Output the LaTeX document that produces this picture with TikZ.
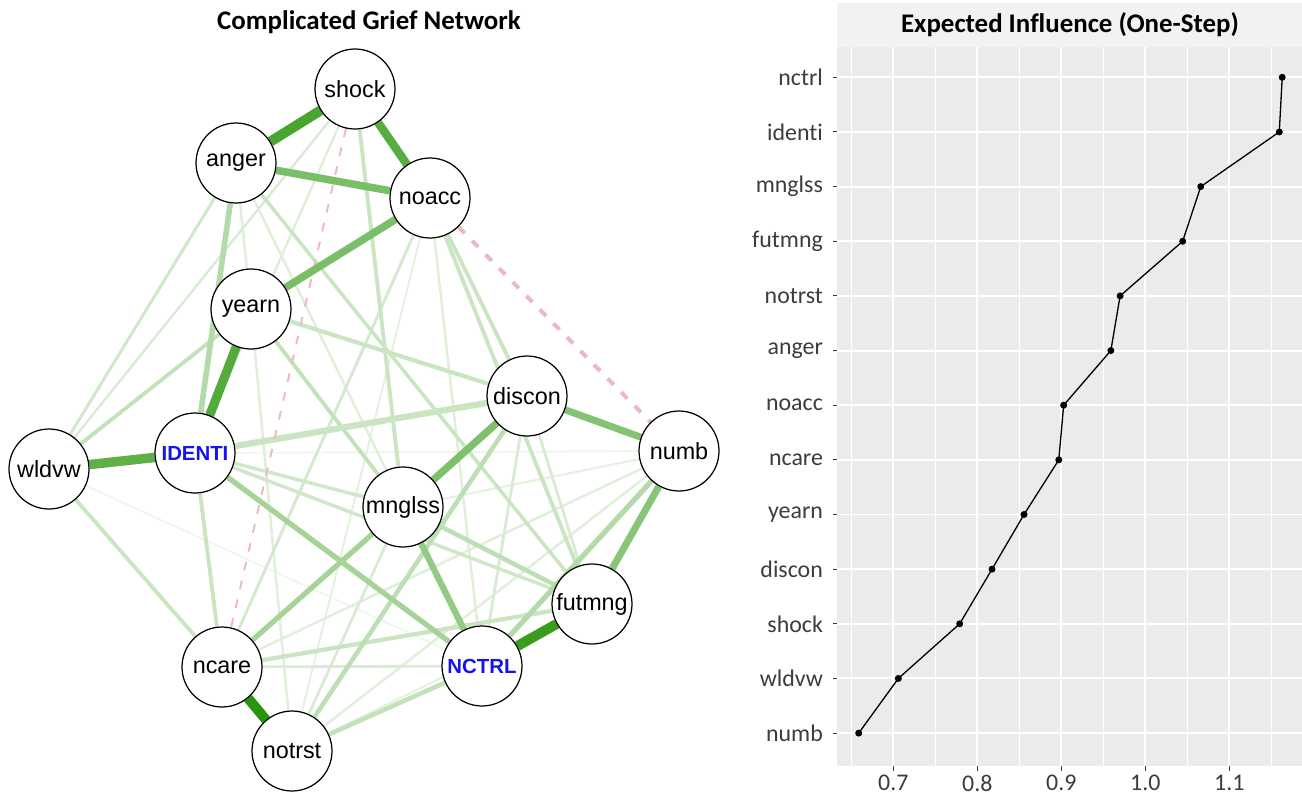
\documentclass[tikz,border=0pt]{standalone}
\usepackage{fontspec}
\usepackage{tikz}
\usetikzlibrary{backgrounds}
\newfontfamily\netfont{Liberation Sans}
\newfontfamily\plotfont[Ligatures=NoCommon]{Carlito}
\definecolor{qgreen}{RGB}{40,150,10}
\definecolor{qneg}{RGB}{234,186,190}
\definecolor{panelgray}{RGB}{235,235,235}
\definecolor{stripgray}{RGB}{242,242,242}
\definecolor{axisgray}{RGB}{60,60,60}
\definecolor{nodeblue}{RGB}{20,20,235}
\tikzset{
  sym/.style={circle, draw=black, line width=0.7pt, fill=white, minimum size=1.6cm,
              inner sep=0pt, font=\netfont\fontsize{13.3}{15}\selectfont},
  core/.style={sym, text=nodeblue, font=\netfont\bfseries\fontsize{11.6}{14}\selectfont},
  ed/.style 2 args={draw=qgreen!#1, line width=#2},
  negd/.style={draw=qneg, line width=#1, dash pattern=on 5pt off 6pt},
  ttl/.style={font=\plotfont\bfseries\fontsize{15.3}{18}\selectfont},
  axlab/.style={font=\plotfont\fontsize{13.6}{16}\selectfont, text=axisgray, inner sep=1pt},
  majgrid/.style={white, line width=1.1pt},
  mingrid/.style={white, line width=0.6pt},
  eiline/.style={black, line width=0.75pt},
  eipt/.style={circle, fill=black, inner sep=0pt, minimum size=0.14cm},
}

\begin{document}
\begin{tikzpicture}[x=0.02cm, y=-0.02cm]
    \useasboundingbox (0,0) rectangle (1302,795);

    % network
    \node[ttl] (nettitle) at (369,22) {Complicated Grief Network};
    \node[sym]  (shock)  at (355,89)  {shock};
    \node[sym]  (anger)  at (236,163) {anger};
    \node[sym]  (noacc)  at (430,198) {noacc};
    \node[sym]  (yearn)  at (251,309) {yearn};
    \node[sym]  (discon) at (527,396) {discon};
    \node[sym]  (numb)   at (679,451) {numb};
    \node[sym]  (wldvw)  at (49,469)  {wldvw};
    \node[core] (identi) at (195,453) {IDENTI};
    \node[sym]  (mnglss) at (403,507) {mnglss};
    \node[sym]  (futmng) at (592,604) {futmng};
    \node[sym]  (ncare)  at (222,667) {ncare};
    \node[core] (nctrl)  at (482,666) {NCTRL};
    \node[sym]  (notrst) at (292,751) {notrst};

    \begin{scope}[on background layer]
      % faint edges first
      \draw[ed={8}{1.1pt}] (wldvw) -- (nctrl);
      \draw[ed={8}{1.1pt}] (identi) -- (numb);
      \draw[ed={12}{1.2pt}] (noacc) -- (notrst);
      \draw[ed={12}{1.2pt}] (numb) -- (mnglss);
      \draw[ed={12}{1.2pt}] (notrst) -- (futmng);
      \draw[ed={15}{1.4pt}] (noacc) -- (nctrl);
      \draw[ed={15}{1.4pt}] (shock) -- (identi);
      \draw[ed={15}{1.4pt}] (anger) -- (yearn);
      \draw[ed={15}{1.4pt}] (anger) -- (nctrl);
      \draw[ed={15}{1.4pt}] (yearn) -- (notrst);
      \draw[ed={15}{1.4pt}] (numb) -- (ncare);
      \draw[ed={15}{1.4pt}] (numb) -- (notrst);
      \draw[ed={18}{1.4pt}] (wldvw) -- (shock);
      \draw[ed={18}{1.6pt}] (discon) -- (nctrl);
      \draw[ed={18}{1.6pt}] (discon) -- (futmng);
      \draw[ed={18}{1.6pt}] (ncare) -- (nctrl);
      \draw[ed={18}{1.6pt}] (notrst) -- (mnglss);
      \draw[ed={20}{1.7pt}] (noacc) -- (ncare);
      \draw[ed={22}{1.7pt}] (wldvw) -- (anger);
      \draw[ed={22}{2.0pt}] (identi) -- (mnglss);
      \draw[ed={22}{2.0pt}] (identi) -- (futmng);
      \draw[ed={25}{2.0pt}] (anger) -- (futmng);
      \draw[ed={25}{2.2pt}] (noacc) -- (futmng);
      \draw[ed={25}{2.2pt}] (noacc) -- (discon);
      \draw[ed={25}{2.2pt}] (shock) -- (mnglss);
      \draw[ed={25}{2.2pt}] (wldvw) -- (ncare);
      \draw[ed={25}{2.2pt}] (identi) -- (ncare);
      \draw[ed={28}{2.2pt}] (wldvw) -- (yearn);
      \draw[ed={28}{2.2pt}] (yearn) -- (mnglss);
      \draw[ed={25}{2.4pt}] (yearn) -- (discon);
      \draw[ed={25}{2.4pt}] (ncare) -- (futmng);
      \draw[ed={28}{2.6pt}] (notrst) -- (nctrl);
      \draw[ed={30}{2.6pt}] (mnglss) -- (futmng);
      \draw[ed={30}{2.6pt}] (discon) -- (notrst);
      \draw[ed={25}{3.6pt}] (identi) -- (discon);
      \draw[ed={35}{3.0pt}] (numb) -- (nctrl);
      \draw[ed={35}{3.2pt}] (anger) -- (identi);
      \draw[ed={42}{3.0pt}] (identi) -- (nctrl);
      \draw[ed={42}{3.0pt}] (ncare) -- (mnglss);
      \draw[negd=1.1pt] (shock) -- (ncare);
      \draw[negd=2.3pt] (noacc) -- (numb);
      % strong edges
      \draw[ed={50}{3.6pt}] (mnglss) -- (nctrl);
      \draw[ed={55}{4.0pt}] (numb) -- (futmng);
      \draw[ed={57}{4.0pt}] (discon) -- (numb);
      \draw[ed={60}{4.2pt}] (discon) -- (mnglss);
      \draw[ed={62}{4.3pt}] (anger) -- (noacc);
      \draw[ed={62}{4.3pt}] (noacc) -- (yearn);
      \draw[ed={75}{5.4pt}] (wldvw) -- (identi);
      \draw[ed={78}{4.8pt}] (shock) -- (noacc);
      \draw[ed={80}{5.2pt}] (yearn) -- (identi);
      \draw[ed={85}{5.7pt}] (shock) -- (anger);
      \draw[ed={92}{5.7pt}] (futmng) -- (nctrl);
      \draw[ed={100}{5.7pt}] (ncare) -- (notrst);
    \end{scope}

    % expected influence panel
    \fill[stripgray] (837.3,3) rectangle (1302,47);
    \node[ttl] (eititle) at (1070,25) {Expected Influence (One-Step)};
    \fill[panelgray] (837.3,47) rectangle (1302,765.7);
    \foreach \k in {0,...,5} {
      \draw[mingrid] ({851.3+84*\k},47) -- ({851.3+84*\k},765.7);
    }
    \foreach \v [count=\k from 0] in {0.7,0.8,0.9,1.0,1.1} {
      \draw[majgrid] ({893.3+84*\k},47) -- ({893.3+84*\k},765.7);
      \draw[axisgray, line width=0.6pt] ({893.3+84*\k},765.7) -- ({893.3+84*\k},770.5);
      \node[axlab] (tick\k) at ({893.3+84*\k},783) {\v};
    }
    \foreach \lab/\val [count=\i] in {nctrl/1.163, identi/1.1595, mnglss/1.066,
        futmng/1.0445, notrst/0.970, anger/0.959, noacc/0.9028, ncare/0.897,
        yearn/0.8556, discon/0.8175, shock/0.779, wldvw/0.706, numb/0.6588} {
      \pgfmathsetmacro\yy{77.3+54.65*(\i-1)}
      \draw[majgrid] (837.3,\yy) -- (1302,\yy);
      \draw[axisgray, line width=0.6pt] (832.5,\yy) -- (837.3,\yy);
      \node[axlab, anchor=east] (lab\i) at (825,\yy) {\lab};
      \coordinate (p\i) at ({893.3+(\val-0.7)*840},\yy);
    }
    \draw[eiline] (p1) \foreach \i in {2,...,13} {-- (p\i)};
    \foreach \i in {1,...,13} \node[eipt] (dot\i) at (p\i) {};
  \end{tikzpicture}
\end{document}
